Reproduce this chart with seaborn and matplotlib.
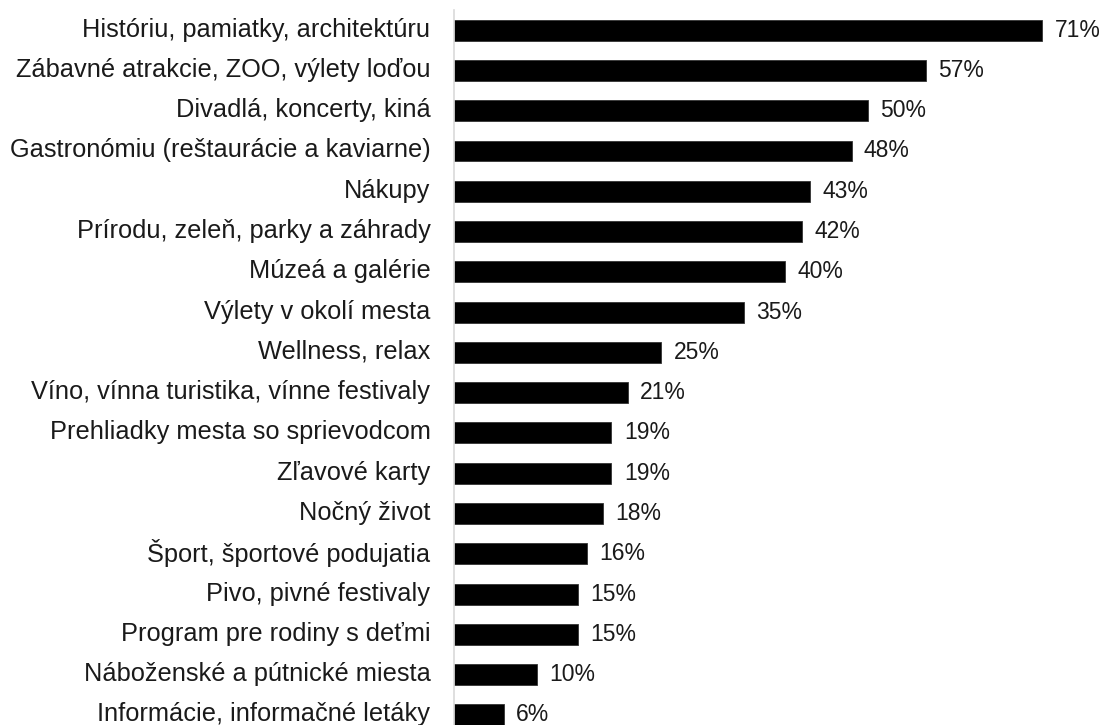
import pandas as pd
import matplotlib
matplotlib.use("Agg")
import matplotlib.pyplot as plt
import matplotlib.transforms as mtransforms
import seaborn as sns

categories = [
    "Históriu, pamiatky, architektúru",
    "Zábavné atrakcie, ZOO, výlety loďou",
    "Divadlá, koncerty, kiná",
    "Gastronómiu (reštaurácie a kaviarne)",
    "Nákupy",
    "Prírodu, zeleň, parky a záhrady",
    "Múzeá a galérie",
    "Výlety v okolí mesta",
    "Wellness, relax",
    "Víno, vínna turistika, vínne festivaly",
    "Prehliadky mesta so sprievodcom",
    "Zľavové karty",
    "Nočný život",
    "Šport, športové podujatia",
    "Pivo, pivné festivaly",
    "Program pre rodiny s deťmi",
    "Náboženské a pútnické miesta",
    "Informácie, informačné letáky",
]
values = [71, 57, 50, 48, 43, 42, 40, 35, 25, 21, 19, 19, 18, 16, 15, 15, 10, 6]

df = pd.DataFrame({"kategoria": categories, "podiel": values})

sns.set_style("white")
plt.rcParams["font.family"] = ["Liberation Sans", "DejaVu Sans"]

fig = plt.figure(figsize=(11.05, 7.25), dpi=100)
ax = fig.add_axes([454 / 1105, 0, 1 - 454 / 1105, 715 / 725])

sns.barplot(data=df, x="podiel", y="kategoria", orient="h", color="black",
            width=0.52, edgecolor="#333333", linewidth=0.6, ax=ax, saturation=1)

for i, v in enumerate(values):
    ax.text(v + 1.5, i, f"{v}%", va="center", ha="left", fontsize=16.5,
            color="#1a1a1a")

ax.set_xlim(0, 78.6)
ax.set_ylim(17.25, -0.5)
ax.set_xlabel("")
ax.set_ylabel("")
ax.set_xticks([])
ax.tick_params(axis="y", length=0, pad=17, labelsize=18.3, labelcolor="#1a1a1a")

# popisky kategorii su o kusok vyssie nez stred stlpca
shift = mtransforms.ScaledTranslation(0, 3 / 100, fig.dpi_scale_trans)
for lab in ax.get_yticklabels():
    lab.set_transform(lab.get_transform() + shift)

for s in ["top", "right", "bottom"]:
    ax.spines[s].set_visible(False)
ax.spines["left"].set_color("#d9d9d9")
ax.spines["left"].set_linewidth(1.2)

fig.savefig("out.png", dpi=100)
